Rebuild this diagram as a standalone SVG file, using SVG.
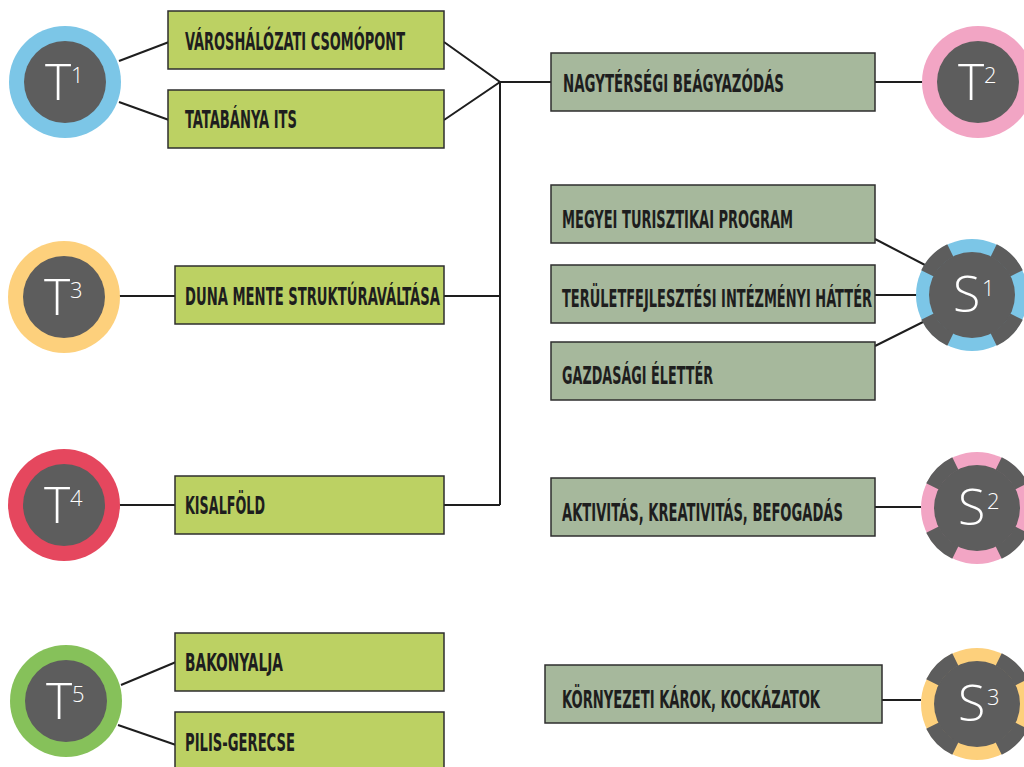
<svg xmlns="http://www.w3.org/2000/svg" width="1024" height="767" viewBox="0 0 1024 767">
<defs>
<style>
.bg{fill:#a6b89c;stroke:#2e2e2e;stroke-width:1.5}
.bt{fill:#bcd163;stroke:#2e2e2e;stroke-width:1.5}
.lbl{font-family:"Liberation Sans Narrow","DejaVu Sans Condensed","Liberation Sans",sans-serif;font-weight:bold;font-size:25px;fill:#1e1e1e}
.conn line,.conn polyline{stroke:#1e1e1e;stroke-width:2;fill:none}
.dark{fill:#5d5d5d}
.big{font-family:"Open Sans","Lato","Liberation Sans",sans-serif;font-weight:300;font-size:50px;fill:#ffffff}
.sup{font-size:22px}
.teeth{fill:none;stroke:#5d5d5d;stroke-width:14;stroke-dasharray:38 52;stroke-dashoffset:-26}
</style>
</defs>
<rect width="1024" height="767" fill="#ffffff"/>

<g id="connectors" class="conn">
<line x1="119" y1="61" x2="169" y2="42"/>
<line x1="119" y1="102" x2="169" y2="120"/>
<polyline points="444,42 500,82 444,120"/>
<line x1="500" y1="82" x2="551" y2="82"/>
<line x1="500" y1="82" x2="500" y2="505"/>
<line x1="444" y1="296" x2="500" y2="296"/>
<line x1="444" y1="505" x2="500" y2="505"/>
<line x1="119" y1="296" x2="176" y2="296"/>
<line x1="119" y1="505" x2="176" y2="505"/>
<line x1="121" y1="685" x2="176" y2="662"/>
<line x1="118" y1="725" x2="176" y2="745"/>
<line x1="875" y1="82" x2="923" y2="82"/>
<line x1="875" y1="239" x2="925" y2="265"/>
<line x1="875" y1="295" x2="917" y2="295"/>
<line x1="875" y1="346" x2="925" y2="321"/>
<line x1="875" y1="507" x2="921" y2="507"/>
<line x1="882" y1="700" x2="921" y2="700"/>
</g>

<g id="box-varoshalozati">
<rect class="bt" x="168" y="11" width="276" height="58"/>
<text class="lbl" x="185" y="50" textLength="220" lengthAdjust="spacingAndGlyphs">VÁROSHÁLÓZATI CSOMÓPONT</text>
</g>
<g id="box-tatabanya">
<rect class="bt" x="168" y="90" width="276" height="58"/>
<text class="lbl" x="185" y="128" textLength="112" lengthAdjust="spacingAndGlyphs">TATABÁNYA ITS</text>
</g>
<g id="box-duna">
<rect class="bt" x="175" y="266" width="269" height="58"/>
<text class="lbl" x="185" y="305" textLength="255" lengthAdjust="spacingAndGlyphs">DUNA MENTE STRUKTÚRAVÁLTÁSA</text>
</g>
<g id="box-kisalfold">
<rect class="bt" x="175" y="476" width="269" height="58"/>
<text class="lbl" x="185" y="514" textLength="80" lengthAdjust="spacingAndGlyphs">KISALFÖLD</text>
</g>
<g id="box-bakonyalja">
<rect class="bt" x="175" y="633" width="269" height="58"/>
<text class="lbl" x="185" y="671" textLength="98" lengthAdjust="spacingAndGlyphs">BAKONYALJA</text>
</g>
<g id="box-pilis">
<rect class="bt" x="175" y="712" width="269" height="58"/>
<text class="lbl" x="185" y="751" textLength="110" lengthAdjust="spacingAndGlyphs">PILIS-GERECSE</text>
</g>

<g id="box-nagytersegi">
<rect class="bg" x="551" y="53" width="324" height="58"/>
<text class="lbl" x="563" y="92" textLength="221" lengthAdjust="spacingAndGlyphs">NAGYTÉRSÉGI BEÁGYAZÓDÁS</text>
</g>
<g id="box-megyei">
<rect class="bg" x="551" y="185" width="324" height="58"/>
<text class="lbl" x="562" y="228" textLength="231" lengthAdjust="spacingAndGlyphs">MEGYEI TURISZTIKAI PROGRAM</text>
</g>
<g id="box-teruletfejlesztesi">
<rect class="bg" x="551" y="265" width="324" height="58"/>
<text class="lbl" x="562" y="307" textLength="310" lengthAdjust="spacingAndGlyphs">TERÜLETFEJLESZTÉSI INTÉZMÉNYI HÁTTÉR</text>
</g>
<g id="box-gazdasagi">
<rect class="bg" x="551" y="342" width="324" height="58"/>
<text class="lbl" x="562" y="384" textLength="151" lengthAdjust="spacingAndGlyphs">GAZDASÁGI ÉLETTÉR</text>
</g>
<g id="box-aktivitas">
<rect class="bg" x="551" y="478" width="324" height="58"/>
<text class="lbl" x="562" y="521" textLength="281" lengthAdjust="spacingAndGlyphs">AKTIVITÁS, KREATIVITÁS, BEFOGADÁS</text>
</g>
<g id="box-kornyezeti">
<rect class="bg" x="545" y="665" width="337" height="58"/>
<text class="lbl" x="562" y="708" textLength="258" lengthAdjust="spacingAndGlyphs">KÖRNYEZETI KÁROK, KOCKÁZATOK</text>
</g>

<g id="node-T1">
<circle cx="65" cy="82" r="56" fill="#7cc6e7"/>
<circle class="dark" cx="65" cy="82" r="41"/>
<text class="big" x="45" y="100">T<tspan class="sup" x="71" y="83">1</tspan></text>
</g>
<g id="node-T2">
<circle cx="978" cy="82" r="56" fill="#f2a5c4"/>
<circle class="dark" cx="978" cy="82" r="41"/>
<text class="big" x="958" y="100">T<tspan class="sup" x="984" y="83">2</tspan></text>
</g>
<g id="node-T3">
<circle cx="64" cy="297" r="56" fill="#fdd07c"/>
<circle class="dark" cx="64" cy="297" r="41"/>
<text class="big" x="44" y="315">T<tspan class="sup" x="70" y="298">3</tspan></text>
</g>
<g id="node-T4">
<circle cx="64" cy="505" r="56" fill="#e5475e"/>
<circle class="dark" cx="64" cy="505" r="41"/>
<text class="big" x="44" y="523">T<tspan class="sup" x="70" y="506">4</tspan></text>
</g>
<g id="node-T5">
<circle cx="66" cy="701" r="56" fill="#86c15a"/>
<circle class="dark" cx="66" cy="701" r="41"/>
<text class="big" x="46" y="719">T<tspan class="sup" x="72" y="702">5</tspan></text>
</g>

<g id="node-S1">
<circle cx="972" cy="295" r="56" fill="#7cc6e7"/>
<circle class="dark" cx="972" cy="295" r="43"/>
<circle class="teeth" cx="972" cy="295" r="49.5" pathLength="360"/>
<text class="big" x="953" y="312">S<tspan class="sup" x="982" y="296">1</tspan></text>
</g>
<g id="node-S2">
<circle cx="977" cy="508" r="56" fill="#f2a5c4"/>
<circle class="dark" cx="977" cy="508" r="43"/>
<circle class="teeth" cx="977" cy="508" r="49.5" pathLength="360"/>
<text class="big" x="958" y="525">S<tspan class="sup" x="987" y="509">2</tspan></text>
</g>
<g id="node-S3">
<circle cx="977" cy="704" r="56" fill="#fdd07c"/>
<circle class="dark" cx="977" cy="704" r="43"/>
<circle class="teeth" cx="977" cy="704" r="49.5" pathLength="360"/>
<text class="big" x="958" y="721">S<tspan class="sup" x="987" y="705">3</tspan></text>
</g>
</svg>
